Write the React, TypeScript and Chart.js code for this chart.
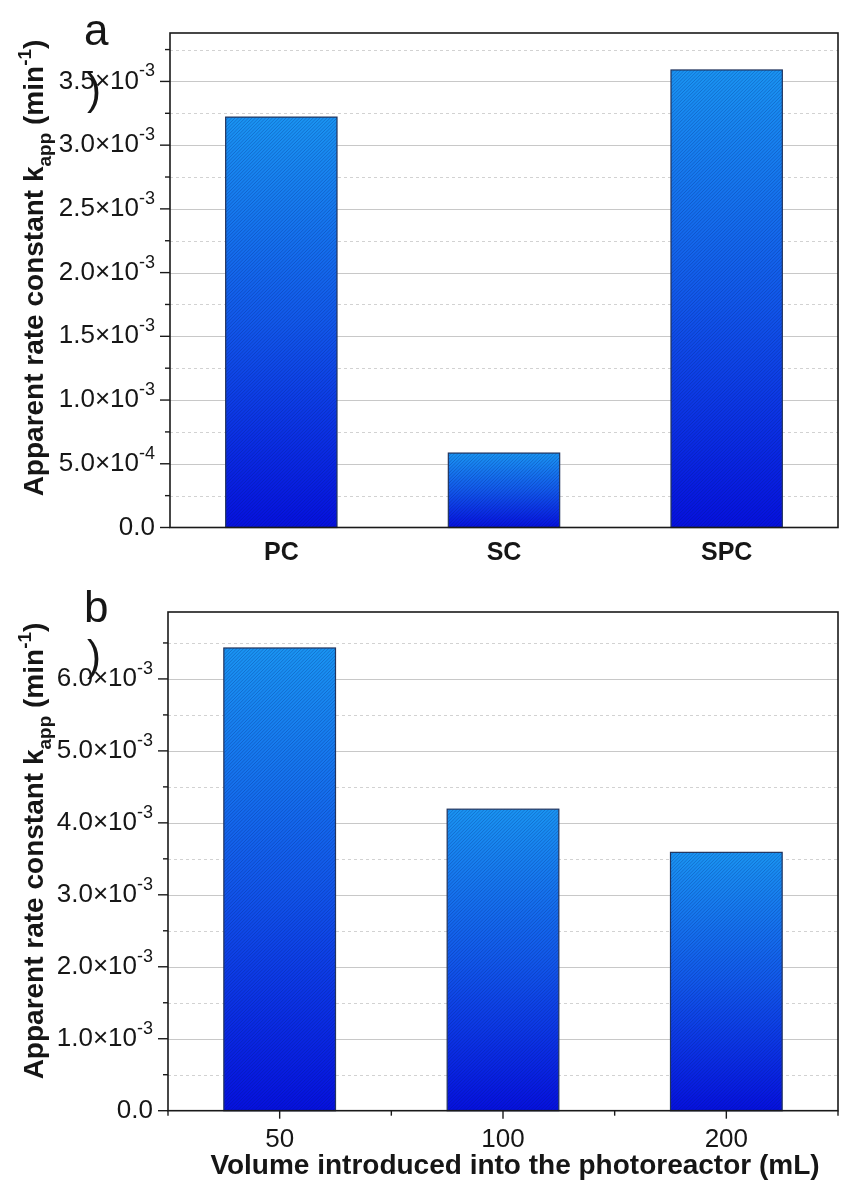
import React, { useEffect, useRef } from "react";
import { Chart, registerables } from "chart.js";
Chart.register(...registerables);

const FONT = "'Liberation Sans', Arial, Helvetica, sans-serif";

// ---------- Panel a ----------
const categoriesA = ["PC", "SC", "SPC"];
const valuesA = [3.22e-3, 5.84e-4, 3.59e-3];
const yMaxA = 3.88e-3;
const majorTicksA = [0, 5e-4, 1e-3, 1.5e-3, 2e-3, 2.5e-3, 3e-3, 3.5e-3];
const tickMantissaA = ["0.0", "5.0", "1.0", "1.5", "2.0", "2.5", "3.0", "3.5"];
const tickExponentA = ["", "-4", "-3", "-3", "-3", "-3", "-3", "-3"];
const minorTicksA = [2.5e-4, 7.5e-4, 1.25e-3, 1.75e-3, 2.25e-3, 2.75e-3, 3.25e-3, 3.75e-3];

// ---------- Panel b ----------
const categoriesB = ["50", "100", "200"];
const valuesB = [6.43e-3, 4.19e-3, 3.59e-3];
const yMaxB = 6.93e-3;
const majorTicksB = [0, 1e-3, 2e-3, 3e-3, 4e-3, 5e-3, 6e-3];
const tickMantissaB = ["0.0", "1.0", "2.0", "3.0", "4.0", "5.0", "6.0"];
const tickExponentB = ["", "-3", "-3", "-3", "-3", "-3", "-3"];
const minorTicksB = [5e-4, 1.5e-3, 2.5e-3, 3.5e-3, 4.5e-3, 5.5e-3, 6.5e-3];

const xTitleB = "Volume introduced into the photoreactor (mL)";

type Panel = {
  letter: string;
  cats: string[];
  vals: number[];
  yMax: number;
  majors: number[];
  mant: string[];
  exps: string[];
  minors: number[];
  canvasTop: number;
  canvasH: number;
  areaLeft: number;
  areaTop: number;
  areaBottom: number;
  areaRight: number;
  xTickMarks: boolean;
  xLabelFont: string;
  xLabelY: number;
  xTitle?: string;
  xTitleX?: number;
  xTitleY?: number;
  titleX: number;
  titleCY: number;
  letterY: number;
  parenY: number;
};

const TEXT = "#161616";

function richLabel(ctx: CanvasRenderingContext2D, mant: string, exp: string, xr: number, y: number) {
  const big = 26;
  const small = 18;
  ctx.textBaseline = "middle";
  ctx.textAlign = "left";
  const base = exp ? mant + "×10" : mant;
  ctx.font = `${big}px ${FONT}`;
  const bw = ctx.measureText(base).width;
  ctx.font = `${small}px ${FONT}`;
  const sw = exp ? ctx.measureText(exp).width : 0;
  const x0 = xr - bw - sw;
  ctx.font = `${big}px ${FONT}`;
  ctx.fillText(base, x0, y);
  if (exp) {
    ctx.font = `${small}px ${FONT}`;
    ctx.fillText(exp, x0 + bw, y - 10);
  }
}

function makePlugin(p: Panel) {
  return {
    id: "decor" + p.letter,
    beforeDatasetsDraw(chart: any) {
      const ctx: CanvasRenderingContext2D = chart.ctx;
      const { left, right } = chart.chartArea;
      const ys = chart.scales.y;
      ctx.save();
      ctx.lineWidth = 1;
      ctx.strokeStyle = "#d2d2d2";
      ctx.setLineDash([3, 3]);
      p.minors.forEach((v) => {
        const y = Math.round(ys.getPixelForValue(v)) + 0.5;
        ctx.beginPath();
        ctx.moveTo(left, y);
        ctx.lineTo(right, y);
        ctx.stroke();
      });
      ctx.setLineDash([]);
      ctx.strokeStyle = "#c8c8c8";
      p.majors.forEach((v) => {
        if (v === 0) return;
        const y = Math.round(ys.getPixelForValue(v)) + 0.5;
        ctx.beginPath();
        ctx.moveTo(left, y);
        ctx.lineTo(right, y);
        ctx.stroke();
      });
      ctx.restore();
    },
    afterDatasetsDraw(chart: any) {
      const ctx: CanvasRenderingContext2D = chart.ctx;
      const meta = chart.getDatasetMeta(0);
      meta.data.forEach((el: any) => {
        const { x, y, base, width } = el.getProps(["x", "y", "base", "width"], true);
        const l = x - width / 2;
        const h = base - y;
        ctx.save();
        ctx.beginPath();
        ctx.rect(l, y, width, h);
        ctx.clip();
        ctx.strokeStyle = "rgba(0, 30, 110, 0.26)";
        ctx.lineWidth = 1;
        for (let k = -h; k < width + h; k += 3.4) {
          ctx.beginPath();
          ctx.moveTo(l + k, base);
          ctx.lineTo(l + k + h, y);
          ctx.stroke();
        }
        ctx.restore();
        ctx.save();
        ctx.strokeStyle = "#22345e";
        ctx.lineWidth = 1.2;
        ctx.strokeRect(l, y, width, h);
        ctx.restore();
      });
    },
    afterDraw(chart: any) {
      const ctx: CanvasRenderingContext2D = chart.ctx;
      const { left, right, top, bottom } = chart.chartArea;
      const ys = chart.scales.y;
      const xs = chart.scales.x;
      ctx.save();
      ctx.strokeStyle = "#1a1a1a";
      ctx.lineWidth = 1.6;
      ctx.strokeRect(left, top, right - left, bottom - top);
      ctx.lineWidth = 1.4;
      p.majors.forEach((v) => {
        const y = ys.getPixelForValue(v);
        ctx.beginPath();
        ctx.moveTo(left - 10, y);
        ctx.lineTo(left, y);
        ctx.stroke();
      });
      p.minors.forEach((v) => {
        const y = ys.getPixelForValue(v);
        ctx.beginPath();
        ctx.moveTo(left - 5, y);
        ctx.lineTo(left, y);
        ctx.stroke();
      });
      if (p.xTickMarks) {
        p.cats.forEach((_c, i) => {
          const x = xs.getPixelForValue(i);
          ctx.beginPath();
          ctx.moveTo(x, bottom);
          ctx.lineTo(x, bottom + 8);
          ctx.stroke();
        });
        for (let i = 0; i <= p.cats.length; i++) {
          const x = xs.getPixelForValue(i - 0.5);
          ctx.beginPath();
          ctx.moveTo(x, bottom);
          ctx.lineTo(x, bottom + 5);
          ctx.stroke();
        }
      }
      // y tick labels
      ctx.fillStyle = TEXT;
      p.majors.forEach((v, i) => {
        richLabel(ctx, p.mant[i], p.exps[i], left - 15, ys.getPixelForValue(v));
      });
      // x tick labels
      ctx.font = p.xLabelFont;
      ctx.textAlign = "center";
      ctx.textBaseline = "middle";
      p.cats.forEach((c, i) => {
        ctx.fillText(c, xs.getPixelForValue(i), p.xLabelY);
      });
      if (p.xTitle) {
        ctx.font = `bold 28px ${FONT}`;
        ctx.fillText(p.xTitle, p.xTitleX as number, p.xTitleY as number);
      }
      // y title with sub/superscript
      const size = 28;
      const small = 19;
      const segs: [string, number, boolean][] = [
        ["Apparent rate constant k", 0, false],
        ["app", 8, true],
        [" (min", 0, false],
        ["-1", -12, true],
        [")", 0, false],
      ];
      let total = 0;
      segs.forEach(([t, , s]) => {
        ctx.font = `bold ${s ? small : size}px ${FONT}`;
        total += ctx.measureText(t).width;
      });
      ctx.save();
      ctx.translate(p.titleX, p.titleCY);
      ctx.rotate(-Math.PI / 2);
      ctx.textAlign = "left";
      ctx.textBaseline = "alphabetic";
      let xx = -total / 2;
      segs.forEach(([t, dy, s]) => {
        ctx.font = `bold ${s ? small : size}px ${FONT}`;
        ctx.fillText(t, xx, dy);
        xx += ctx.measureText(t).width;
      });
      ctx.restore();
      // panel letter and stray parenthesis
      ctx.textAlign = "left";
      ctx.textBaseline = "alphabetic";
      ctx.font = `44px ${FONT}`;
      ctx.fillText(p.letter, 84, p.letterY);
      ctx.font = `42px ${FONT}`;
      ctx.fillText(")", 87, p.parenY);
      ctx.restore();
    },
  };
}

const panelA: Panel = {
  letter: "a",
  cats: categoriesA,
  vals: valuesA,
  yMax: yMaxA,
  majors: majorTicksA,
  mant: tickMantissaA,
  exps: tickExponentA,
  minors: minorTicksA,
  canvasTop: 0,
  canvasH: 560,
  areaLeft: 170,
  areaTop: 33,
  areaBottom: 527.5,
  areaRight: 838,
  xTickMarks: false,
  xLabelFont: `bold 25px ${FONT}`,
  xLabelY: 553,
  titleX: 43,
  titleCY: 268,
  letterY: 45,
  parenY: 104,
};

const panelB: Panel = {
  letter: "b",
  cats: categoriesB,
  vals: valuesB,
  yMax: yMaxB,
  majors: majorTicksB,
  mant: tickMantissaB,
  exps: tickExponentB,
  minors: minorTicksB,
  canvasTop: 560,
  canvasH: 631,
  areaLeft: 168,
  areaTop: 52,
  areaBottom: 550.7,
  areaRight: 838,
  xTickMarks: true,
  xLabelFont: `26px ${FONT}`,
  xLabelY: 580,
  xTitle: xTitleB,
  xTitleX: 515,
  xTitleY: 606,
  titleX: 43,
  titleCY: 291,
  letterY: 62,
  parenY: 110,
};

function PanelChart({ p }: { p: Panel }) {
  const ref = useRef<HTMLCanvasElement | null>(null);
  useEffect(() => {
    const canvas = ref.current;
    if (!canvas) return;
    const chart = new Chart(canvas, {
      type: "bar",
      data: {
        labels: p.cats,
        datasets: [
          {
            data: p.vals,
            borderWidth: 0,
            barPercentage: 0.5,
            categoryPercentage: 1.0,
            backgroundColor: (c: any) => {
              const ch = c.chart;
              if (!ch.chartArea || c.type !== "data") return "#1466ea";
              const ys = ch.scales.y;
              const t = ys.getPixelForValue(c.raw);
              const b = ys.getPixelForValue(0);
              const g = ch.ctx.createLinearGradient(0, t, 0, b);
              g.addColorStop(0, "#1a94f2");
              g.addColorStop(0.5, "#1258ea");
              g.addColorStop(1, "#0610df");
              return g;
            },
          },
        ],
      },
      options: {
        animation: false,
        responsive: false,
        maintainAspectRatio: false,
        devicePixelRatio: 1,
        layout: { padding: { top: p.areaTop, right: 842 - p.areaRight, left: 0, bottom: 0 } },
        plugins: { legend: { display: false }, tooltip: { enabled: false } },
        scales: {
          x: {
            type: "category",
            offset: true,
            grid: { display: false },
            border: { display: false },
            ticks: { display: false },
            afterFit: (s: any) => {
              s.height = p.canvasH - p.areaBottom;
            },
          },
          y: {
            type: "linear",
            min: 0,
            max: p.yMax,
            grid: { display: false },
            border: { display: false },
            ticks: { display: false },
            afterFit: (s: any) => {
              s.width = p.areaLeft;
            },
          },
        },
      } as any,
      plugins: [makePlugin(p) as any],
    });
    return () => chart.destroy();
  }, [p]);
  return (
    <canvas
      ref={ref}
      width={842}
      height={p.canvasH}
      style={{ position: "absolute", left: 0, top: p.canvasTop, width: 842, height: p.canvasH, display: "block" }}
    />
  );
}

export default function App() {
  return (
    <div style={{ position: "absolute", left: 0, top: 0, width: 842, height: 1191, background: "#fff" }}>
      <PanelChart p={panelA} />
      <PanelChart p={panelB} />
    </div>
  );
}
